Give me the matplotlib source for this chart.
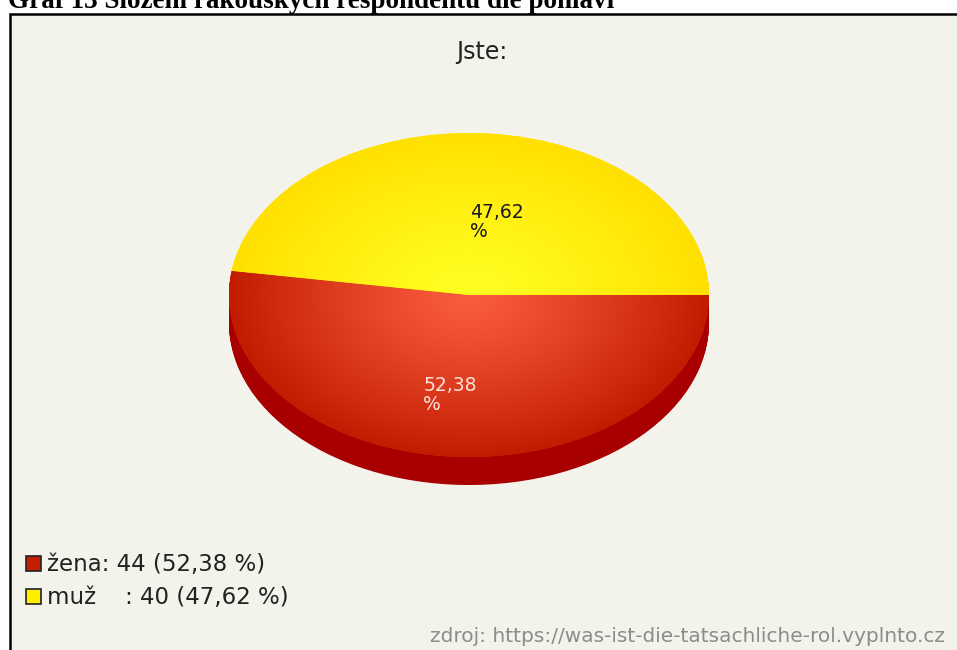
import numpy as np
from matplotlib import pyplot as plt
from matplotlib.patches import Rectangle

# data
categories = ["žena", "muž    "]
counts = [44, 40]
top_colors = ["#d8300f", "#fff000"]
side_colors = ["#a80000", "#c8a800"]
legend_colors = ["#c41e00", "#ffee00"]
label_colors = ["#ffe0d8", "#1a1a1a"]

total = sum(counts)
pcts = [c / total * 100 for c in counts]


def fmt(p):
    return f"{p:.2f}".replace(".", ",")


fig = plt.figure(figsize=(9.57, 6.5), dpi=100)
fig.patch.set_facecolor("white")

# whole figure in pixel coordinates
ax = fig.add_axes([0, 0, 1, 1])
ax.set_xlim(0, 957)
ax.set_ylim(650, 0)
ax.axis("off")

# document caption, cut off at the top of the screenshot
ax.text(8, 8.5, "Graf 13 Složení rakouských respondentů dle pohlaví",
        fontfamily="Liberation Serif", fontweight="bold", fontsize=19.5,
        va="baseline", ha="left", color="black")

# chart frame
ax.add_patch(Rectangle((10, 14), 960, 660, facecolor="#f3f2eb",
                       edgecolor="black", lw=1.8))

ax.text(482, 52, "Jste:", ha="center", va="center", fontsize=17,
        color="#222222")

# pie: elliptical 3d look, top face 480x324 px, depth 28 px
depth = 28 / 162
pax = fig.add_axes([229 / 957, (650 - 485) / 650, 480 / 957, 352 / 650])

for off in np.linspace(depth, 0, 40, endpoint=False):
    pax.pie(counts, colors=side_colors, center=(0, -off), startangle=0,
            counterclock=False, wedgeprops=dict(linewidth=0))

wedges, _ = pax.pie(counts, colors=top_colors, startangle=0,
                    counterclock=False, wedgeprops=dict(linewidth=0))

# radial shading of the top face
yy, xx = np.mgrid[1:-1:500j, -1:1:500j]
r = np.clip(np.hypot(xx, yy), 0, 1) ** 1.2
shades = [((250, 92, 62), (194, 28, 0)), ((255, 255, 34), (255, 224, 0))]
for w, (c0, c1) in zip(wedges, shades):
    c0 = np.array(c0) / 255
    c1 = np.array(c1) / 255
    img = c0 + (c1 - c0) * r[..., None]
    im = pax.imshow(img, extent=(-1, 1, -1, 1), origin="upper", zorder=2,
                    interpolation="bilinear")
    im.set_clip_path(w)

# percentage labels
label_pos = [(-0.19, -0.50), (0.005, 0.57)]
for p, (lx, ly), col in zip(pcts, label_pos, label_colors):
    pax.text(lx, ly, fmt(p) + "\n%", ha="left", va="top", fontsize=13.5,
             color=col, linespacing=1.0, zorder=5)

pax.set_aspect("auto")
pax.set_xlim(-1, 1)
pax.set_ylim(-1 - depth, 1)
pax.axis("off")

# legend
for i, (cat, n, p, col) in enumerate(zip(categories, counts, pcts, legend_colors)):
    y = 556 + i * 33
    ax.add_patch(Rectangle((26, y), 15, 15, facecolor=col,
                           edgecolor="#222222", lw=1.2))
    ax.text(47, y + 15, f"{cat}: {n} ({fmt(p)} %)", ha="left",
            va="baseline", fontsize=16.5, color="#222222")

ax.text(945, 636, "zdroj: https://was-ist-die-tatsachliche-rol.vyplnto.cz",
        ha="right", va="center", fontsize=14.5, color="#8c8c8c")

plt.savefig("out.png", dpi=100)
